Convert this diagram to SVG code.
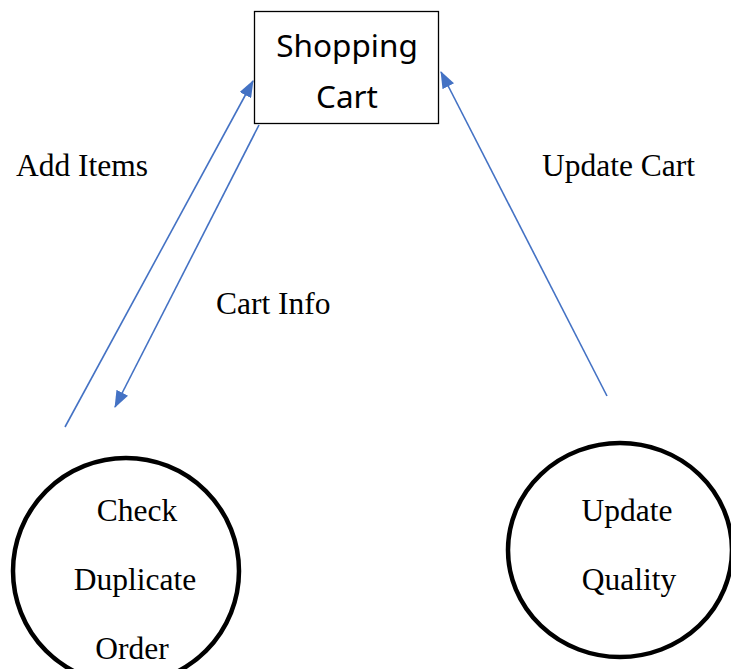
<svg xmlns="http://www.w3.org/2000/svg" width="731" height="669" viewBox="0 0 731 669">
  <style>
    .box { fill: #ffffff; stroke: #000000; stroke-width: 1.3; }
    .proc { fill: none; stroke: #000000; stroke-width: 4.5; }
    .sans { font-family: "Noto Sans", "Open Sans", sans-serif; font-size: 31.5px; fill: #000000; text-anchor: middle; }
    .serif { font-family: "Liberation Serif", "Times New Roman", serif; font-size: 31.5px; fill: #000000; }
    .flow { fill: none; stroke: #4472C4; stroke-width: 1.6; }
  </style>
  <defs>
    <marker id="arrow" viewBox="0 0 17 13" refX="16" refY="6.5" markerWidth="17" markerHeight="13" markerUnits="userSpaceOnUse" orient="auto">
      <path d="M0,0 L17,6.5 L0,13 Z" fill="#4472C4"/>
    </marker>
  </defs>

  <rect width="731" height="669" fill="#ffffff"/>

  <!-- data flows -->
  <g id="connectors">
    <line class="flow" x1="65" y1="427" x2="253" y2="81" marker-end="url(#arrow)"/>
    <line class="flow" x1="259" y1="125" x2="115" y2="407" marker-end="url(#arrow)"/>
    <line class="flow" x1="607" y1="396" x2="441" y2="72" marker-end="url(#arrow)"/>
  </g>

  <!-- flow labels -->
  <g id="labels">
    <text class="serif" x="16" y="176">Add Items</text>
    <text class="serif" x="542" y="176">Update Cart</text>
    <text class="serif" x="216" y="314">Cart Info</text>
  </g>

  <g id="shopping-cart">
    <rect class="box" x="254.5" y="11.5" width="184" height="112"/>
    <text class="sans" x="347" y="57">Shopping</text>
    <text class="sans" x="347" y="108">Cart</text>
  </g>

  <g id="check-duplicate-order">
    <ellipse class="proc" cx="126" cy="571" rx="113" ry="113"/>
    <text class="serif" x="137" y="521" text-anchor="middle">Check</text>
    <text class="serif" x="135" y="590" text-anchor="middle">Duplicate</text>
    <text class="serif" x="132" y="659" text-anchor="middle">Order</text>
  </g>

  <g id="update-quality">
    <ellipse class="proc" cx="620" cy="550" rx="112" ry="107"/>
    <text class="serif" x="627" y="521" text-anchor="middle">Update</text>
    <text class="serif" x="629" y="590" text-anchor="middle">Quality</text>
  </g>
</svg>
